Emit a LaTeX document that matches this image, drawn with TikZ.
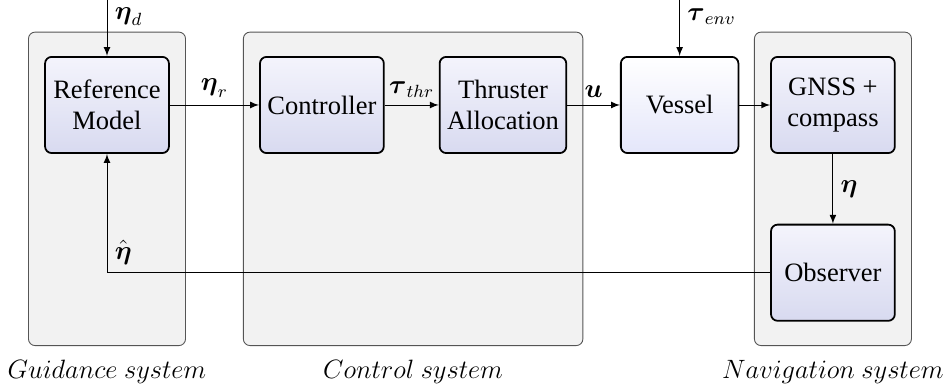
\documentclass[tikz,border=0pt]{standalone}
\usepackage{amsmath}
\usepackage{fontspec}
\setmainfont{Liberation Serif}
\newfontfamily\boxfont{Liberation Serif}
\usetikzlibrary{positioning,arrows,fit,backgrounds}
\definecolor{blocktop}{RGB}{244,244,252}
\definecolor{blockbot}{RGB}{216,218,240}
\definecolor{plantbot}{RGB}{228,230,250}
\definecolor{groupfill}{RGB}{242,242,242}
\definecolor{groupline}{RGB}{85,85,85}
\tikzset{
font=\fontsize{12}{14}\selectfont,
>=latex,
block/.style={draw,thick,rounded corners=3pt,align=center,font=\fontsize{12}{14}\boxfont,minimum width=1.97cm,minimum height=1.53cm,top color=blocktop,bottom color=blockbot},
plant/.style={block,minimum width=1.87cm,top color=white,bottom color=plantbot},
group/.style={draw=groupline,fill=groupfill,rounded corners=3pt,inner xsep=0.25cm,inner ysep=0.38cm}
}

\begin{document}
\begin{tikzpicture}
\useasboundingbox (0,0) rectangle (15,-6.124);
\coordinate (origin) at (0,0);

\node[block]  (ref)    at (1.702,-1.670)        {Reference\\Model};
\node[block]  (ctrl)   [right=1.42cm of ref]    {Controller};
\node[block]  (alloc)  [right=0.86cm of ctrl]   {Thruster\\Allocation};
\node[plant]  (vessel) [right=0.84cm of alloc]  {Vessel};
\node[block]  (gnss)   [right=0.49cm of vessel] {GNSS +\\compass};
\node[block]  (obs)    [below=1.11cm of gnss]   {Observer};

\coordinate (dtop)   at (ref.north |- origin);
\coordinate (envtop) at (vessel.north |- origin);

\begin{scope}[on background layer]
\node[group,fit={(ref) (ref |- obs.south)}]          (guid) {};
\node[group,fit={(ctrl) (alloc) (ctrl |- obs.south)}] (cont) {};
\node[group,fit={(gnss) (obs)}]                      (nav)  {};
\end{scope}

\node (guidlabel) [below=0.1cm of guid] {$Guidance\ system$};
\node (contlabel) [below=0.1cm of cont] {$Control\ system$};
\node (navlabel)  [below=0.1cm of nav]  {$Navigation\ system$};

\path[->] (dtop)   edge node[pos=0.3,right] {$\boldsymbol{\eta}_d$}      (ref)
          (ref)    edge node[above]         {$\boldsymbol{\eta}_r$}      (ctrl)
          (ctrl)   edge node[above]         {$\boldsymbol{\tau}_{thr}$}  (alloc)
          (alloc)  edge node[above]         {$\boldsymbol{u}$}           (vessel)
          (envtop) edge node[pos=0.3,right] {$\boldsymbol{\tau}_{env}$}  (vessel)
          (vessel) edge                                                  (gnss)
          (gnss)   edge node[right]         {$\boldsymbol{\eta}$}        (obs);
\draw[->] (obs) -| node[pos=0.585,right] {$\hat{\boldsymbol{\eta}}$} (ref);
\end{tikzpicture}
\end{document}
